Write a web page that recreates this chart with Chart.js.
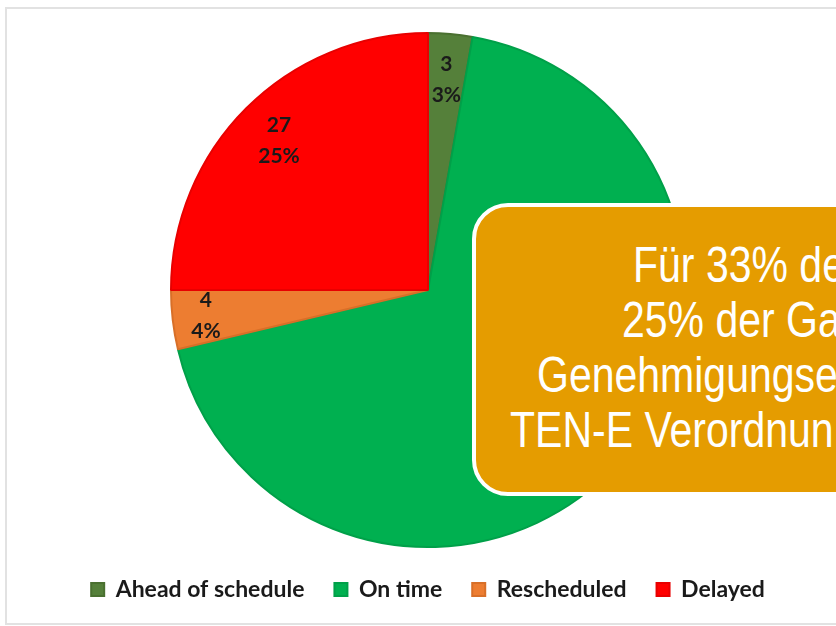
<!DOCTYPE html>
<html>
<head>
<meta charset="utf-8">
<script src="https://cdn.jsdelivr.net/npm/chart.js@4.4.1/dist/chart.umd.min.js"></script>
<style>
    html, body { margin: 0; padding: 0; background: #fff; width: 836px; height: 626px; overflow: hidden; }
    .frame { position: absolute; left: 5px; top: 7px; width: 1000px; height: 614px; border: 2px solid #e2e2e2; }
    .chart-wrap { position: absolute; left: 20px; top: 0; width: 816px; height: 626px; }
    .callout {
        position: absolute; left: 472px; top: 203px; width: 560px; height: 293px;
        box-sizing: border-box; background: #e59c00; border: 4px solid #fff; border-radius: 36px;
    }
    .callout-line {
        position: absolute; white-space: nowrap; color: #fff;
        font-family: "Liberation Sans", Arial, sans-serif; font-size: 41px; line-height: 41px;
        transform-origin: 0 34.7px; transform: scaleY(1.22);
    }
</style>
</head>
<body>
<div class="frame"></div>
<div class="chart-wrap"><canvas id="pie"></canvas></div>
<div class="callout"></div>
<div class="callout-line" style="left:633px; top:248px;">Für 33% de</div>
<div class="callout-line" style="left:622px; top:303px;">25% der Ga</div>
<div class="callout-line" style="left:537px; top:358px;">Genehmigungse</div>
<div class="callout-line" style="left:510px; top:413px;">TEN-E Verordnun</div>
<script>
const categories = ['Ahead of schedule', 'On time', 'Rescheduled', 'Delayed'];
const projectCounts = [3, 74, 4, 27];
const sliceColors = ['#55803a', '#00b050', '#ed7d31', '#ff0000'];
const sliceEdges = ['#4a7030', '#00a049', '#d86f28', '#e80000'];
// how far out (fraction of radius) each data label sits
const labelRadius = [0.82, 0.8, 0.87, 0.82];

// draws "value / percent" inside each slice, like the Excel data labels
const sliceLabels = {
    id: 'sliceLabels',
    afterDatasetsDraw(chart) {
        const ctx = chart.ctx;
        const meta = chart.getDatasetMeta(0);
        const total = projectCounts.reduce((a, b) => a + b, 0);
        ctx.save();
        ctx.font = 'bold 21px Lato, "Open Sans", sans-serif';
        ctx.fillStyle = '#1a1a1a';
        ctx.textAlign = 'center';
        ctx.textBaseline = 'middle';
        meta.data.forEach((arc, i) => {
            const mid = (arc.startAngle + arc.endAngle) / 2;
            const r = arc.outerRadius * labelRadius[i];
            const x = arc.x + Math.cos(mid) * r;
            const y = arc.y + Math.sin(mid) * r;
            const pct = Math.round(projectCounts[i] / total * 100) + '%';
            ctx.fillText(String(projectCounts[i]), x, y - 15.5);
            ctx.fillText(pct, x, y + 15.5);
        });
        ctx.restore();
    }
};

new Chart(document.getElementById('pie').getContext('2d'), {
    type: 'pie',
    data: {
        labels: categories,
        datasets: [{
            data: projectCounts,
            backgroundColor: sliceColors,
            borderColor: sliceEdges,
            borderWidth: 2
        }]
    },
    options: {
        responsive: true,
        maintainAspectRatio: false,
        animation: false,
        events: [],
        layout: { padding: { top: 32, bottom: 15 } },
        plugins: {
            tooltip: { enabled: false },
            legend: {
                position: 'bottom',
                labels: {
                    boxWidth: 13,
                    boxHeight: 13,
                    padding: 30,
                    color: '#1a1a1a',
                    font: { family: 'Lato, "Open Sans", sans-serif', size: 23, weight: 'bold' }
                }
            }
        }
    },
    plugins: [sliceLabels]
});
</script>
</body>
</html>
